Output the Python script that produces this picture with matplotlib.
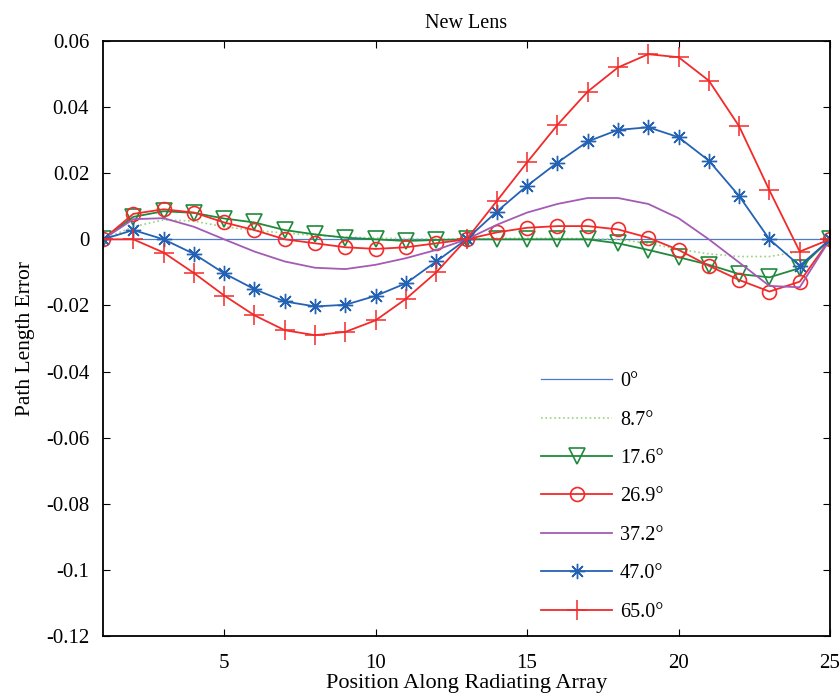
import numpy as np
import matplotlib
matplotlib.use('Agg')
from matplotlib import pyplot as plt

plt.rcParams['font.family'] = ['Liberation Serif', 'DejaVu Serif']
plt.rcParams['axes.unicode_minus'] = False

pos = np.arange(1, 26)

labels = ['0°', '8.7°', '17.6°', '26.9°', '37.2°', '47.0°', '65.0°']

err_00 = [0.0] * 25
err_87 = [0, 0.0038, 0.0059, 0.0055, 0.0038, 0.0027, 0.0019, 0.0012, 0.0007, 0.0004,
          0.0002, 0.0001, 0, 0.0003, 0.0003, 0.0003, 0.0002, 0.0, -0.0012, -0.003,
          -0.0044, -0.0052, -0.0052, -0.0037, 0]
err_176 = [0, 0.0068, 0.0085, 0.008, 0.0063, 0.0051, 0.0028, 0.0015, 0.0005, 0.0,
           -0.0005, -0.0002, 0, 0.0, 0.0, 0.0, 0.0, -0.0012, -0.0032, -0.0054,
           -0.0077, -0.0105, -0.0115, -0.0087, 0]
err_269 = [0, 0.0077, 0.0091, 0.0081, 0.0051, 0.0028, 0.0, -0.0012, -0.0024, -0.0029,
           -0.0024, -0.0012, 0, 0.0021, 0.0035, 0.004, 0.004, 0.003, 0.0005, -0.0032,
           -0.008, -0.0123, -0.0158, -0.0128, 0]
err_372 = [0, 0.0061, 0.0064, 0.0038, 0.0, -0.0037, -0.0067, -0.0086, -0.009, -0.0077,
           -0.0057, -0.0032, 0, 0.0044, 0.0081, 0.0107, 0.0125, 0.0125, 0.0107, 0.0064,
           0.0, -0.007, -0.0141, -0.0145, 0]
err_470 = [0, 0.0028, 0.0, -0.0044, -0.0103, -0.0151, -0.0188, -0.0203, -0.0198, -0.0171,
           -0.0133, -0.0067, 0, 0.0084, 0.0162, 0.0232, 0.0296, 0.0331, 0.0339, 0.0309,
           0.0238, 0.0131, 0.0, -0.008, 0]
err_650 = [0, 0.0, -0.004, -0.0102, -0.017, -0.023, -0.0275, -0.029, -0.028, -0.0245,
           -0.018, -0.010, 0, 0.0116, 0.0233, 0.0346, 0.0447, 0.052, 0.056, 0.0551,
           0.048, 0.0342, 0.0148, -0.0037, 0]

fig = plt.figure(figsize=(8.39, 6.96), dpi=100)
ax = fig.add_axes([0.1228, 0.0862, 0.8665, 0.8549])

ax.plot(pos, err_00, color='#4a7cc8', lw=0.9, label=labels[0])
ax.plot(pos, err_87, color='#9ad27e', lw=1.2, ls=':', label=labels[1])
ax.plot(pos, err_176, color='#1f8a3c', lw=1.3, marker='v', ms=12,
        mfc='none', mew=1.2, label=labels[2])
ax.plot(pos, err_269, color='#f22a2a', lw=1.3, marker='o', ms=10,
        mfc='none', mew=1.2, label=labels[3])
ax.plot(pos, err_372, color='#a35bb5', lw=1.3, label=labels[4])
ax.plot(pos, err_470, color='#2462b4', lw=1.3, marker=(8, 2, 0), ms=11,
        mew=1.0, label=labels[5])
ax.plot(pos, err_650, color='#f22a2a', lw=1.3, marker='+', ms=14,
        mew=1.1, label=labels[6])

ax.set_xlim(1, 25)
ax.set_ylim(-0.12, 0.06)
ax.set_xticks([5, 10, 15, 20, 25])
ax.set_yticks(np.arange(-0.12, 0.061, 0.02))
ax.set_yticklabels(['-0.12', '-0.1', '-0.08', '-0.06', '-0.04', '-0.02', '0',
                    '0.02', '0.04', '0.06'])
ax.tick_params(direction='in', top=True, right=True, labelsize=15, length=5)
ax.tick_params(axis='x', pad=13)
ax.tick_params(axis='y', pad=10)
for s in ax.spines.values():
    s.set_linewidth(1.3)

ax.set_title('New Lens', fontsize=14.5, pad=9)
ax.set_xlabel('Position Along Radiating Array', fontsize=16, labelpad=1)
ax.set_ylabel('Path Length Error', fontsize=15.5, labelpad=8)

ax.legend(loc='upper left', bbox_to_anchor=(0.578, 0.474), frameon=False,
          fontsize=14.5, handlelength=3.5, handletextpad=0.4, labelspacing=0.96)

fig.savefig('out.png', dpi=100)
